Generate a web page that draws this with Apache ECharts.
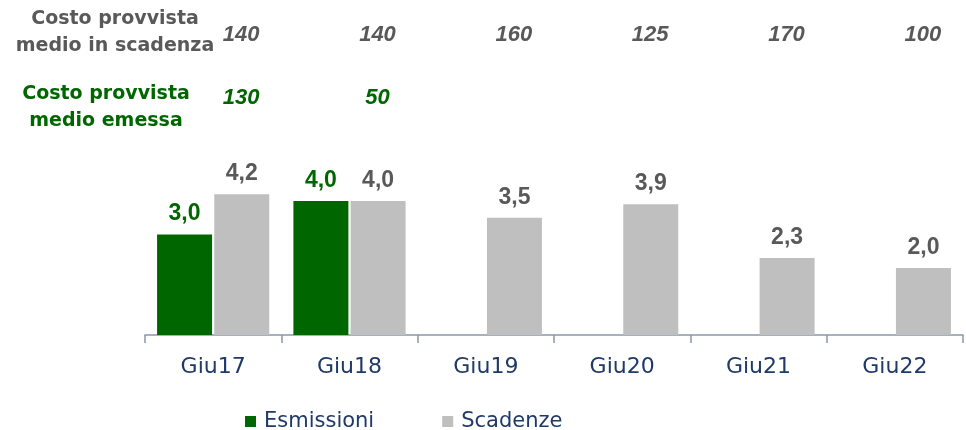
<!DOCTYPE html>
<html>
<head>
    <meta charset="utf-8" />
    <script src="https://cdn.jsdelivr.net/npm/echarts@6/dist/echarts.min.js"></script>
    <title></title>
    <style>
        body { margin: 0; background: #fff; }
    </style>
</head>

<body>
    <div id="main" style="width: 966px;height:430px;"></div>

    <script type="text/javascript">

        var categories = ['Giu17', 'Giu18', 'Giu19', 'Giu20', 'Giu21', 'Giu22'];
        var emissioni = [3.0, 4.0, null, null, null, null];
        var scadenze = [4.2, 4.0, 3.5, 3.9, 2.3, 2.0];
        var costoScadenza = [140, 140, 160, 125, 170, 100];
        var costoEmessa = [130, 50, null, null, null, null];

        var green = '#006600';
        var grey = '#bfbfbf';
        var darkGrey = '#595959';
        var navy = '#1f3a68';

        function virgola(v) {
            return v.toFixed(1).replace('.', ',');
        }

        var myChart = echarts.init(document.getElementById('main'));

        myChart.setOption({
            animation: false,
            grid: { left: 145, right: 3, top: 0, bottom: 95 },
            legend: {
                data: ['Esmissioni', 'Scadenze'],
                left: 240,
                top: 406,
                itemWidth: 11,
                itemHeight: 11,
                itemGap: 68,
                icon: 'rect',
                textStyle: { fontFamily: 'DejaVu Sans', fontSize: 21, color: navy, padding: [0, 0, 0, 3] }
            },
            xAxis: {
                type: 'category',
                data: categories,
                axisLine: { lineStyle: { color: '#8c96aa', width: 1.5 } },
                axisTick: { show: true, length: 8, lineStyle: { color: '#8c96aa', width: 1.5 } },
                axisLabel: { fontFamily: 'DejaVu Sans', fontSize: 22, color: navy, margin: 21 }
            },
            yAxis: {
                type: 'value',
                min: 0,
                max: 10,
                show: false,
                splitLine: { show: false }
            },
            series: [
                {
                    name: 'Esmissioni',
                    type: 'bar',
                    data: emissioni,
                    barWidth: 55,
                    barGap: '4%',
                    itemStyle: { color: green },
                    label: {
                        show: true, position: 'top', distance: 9,
                        fontFamily: 'Liberation Sans', fontWeight: 'bold', fontSize: 23, color: green,
                        formatter: function (p) { return virgola(p.value); }
                    }
                },
                {
                    name: 'Scadenze',
                    type: 'bar',
                    data: scadenze,
                    barWidth: 55,
                    itemStyle: { color: grey },
                    label: {
                        show: true, position: 'top', distance: 9,
                        fontFamily: 'Liberation Sans', fontWeight: 'bold', fontSize: 23, color: darkGrey,
                        formatter: function (p) { return virgola(p.value); }
                    }
                },
                {
                    name: 'costoScadenza',
                    type: 'scatter',
                    symbolSize: 0,
                    itemStyle: { opacity: 1 },
                    data: costoScadenza.map(function (c) { return 8.97; }),
                    label: {
                        show: true, position: 'inside', offset: [28, 0],
                        fontFamily: 'Liberation Sans', fontWeight: 'bold', fontStyle: 'italic',
                        fontSize: 22, color: darkGrey,
                        formatter: function (p) { return costoScadenza[p.dataIndex]; }
                    }
                },
                {
                    name: 'costoEmessa',
                    type: 'scatter',
                    symbolSize: 0,
                    itemStyle: { opacity: 1 },
                    data: costoEmessa.map(function (c) { return c == null ? null : 7.07; }),
                    label: {
                        show: true, position: 'inside', offset: [28, 0],
                        fontFamily: 'Liberation Sans', fontWeight: 'bold', fontStyle: 'italic',
                        fontSize: 22, color: green,
                        formatter: function (p) { return costoEmessa[p.dataIndex]; }
                    }
                }
            ],
            graphic: [
                {
                    type: 'text', x: 115, y: 6,
                    style: {
                        text: 'Costo provvista\nmedio in scadenza', align: 'center', verticalAlign: 'top',
                        font: 'bold 19px "DejaVu Sans"', fill: darkGrey, lineHeight: 27
                    }
                },
                {
                    type: 'text', x: 106, y: 81,
                    style: {
                        text: 'Costo provvista\nmedio emessa', align: 'center', verticalAlign: 'top',
                        font: 'bold 19px "DejaVu Sans"', fill: green, lineHeight: 27
                    }
                }
            ]
        });

    </script>

</body>
</html>
